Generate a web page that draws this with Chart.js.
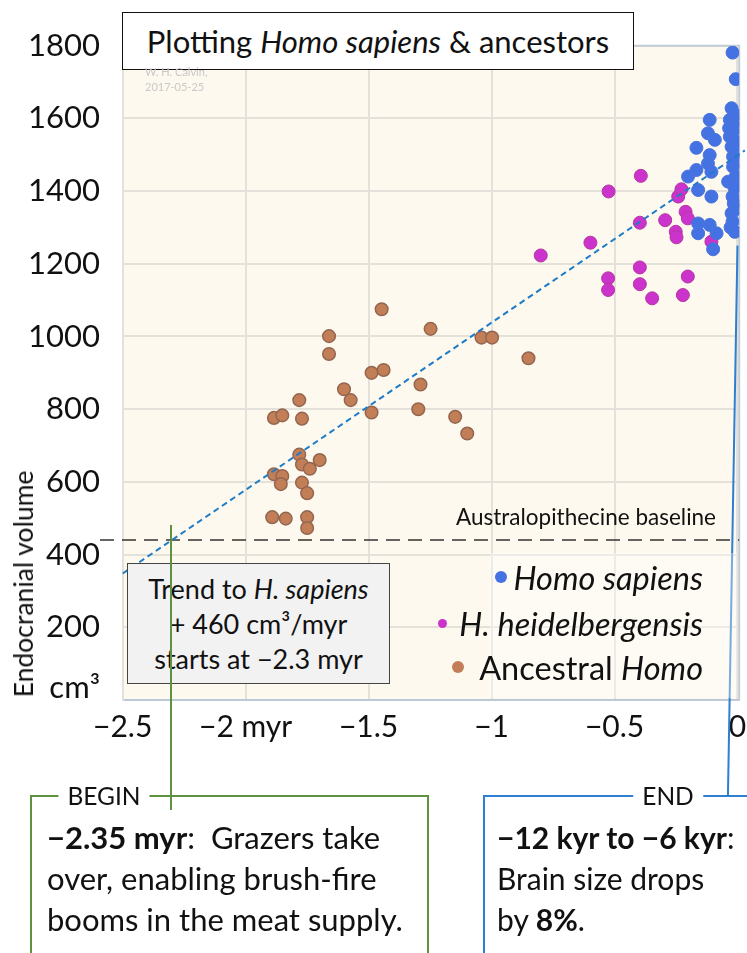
<!DOCTYPE html>
<html><head><meta charset="utf-8">
<script src="https://cdn.jsdelivr.net/npm/chart.js@4/dist/chart.umd.min.js"></script>
<style>
body{margin:0;background:#fff;font-family:Lato,"Open Sans",sans-serif;color:#111;}
#wrap{position:relative;width:747px;height:953px;overflow:hidden;}
canvas{position:absolute;left:0;top:0;}
.abs{position:absolute;}
#title{left:122px;top:12px;width:512px;height:58px;border:1.5px solid #111;background:#fff;font-size:31px;line-height:56px;text-align:center;box-sizing:border-box;}
#wm{left:145px;top:64px;font-size:11px;line-height:15px;color:#c9c9c9;}
#ylab{left:23px;top:584px;transform:translate(-50%,-50%) rotate(-90deg);font-size:26.5px;white-space:nowrap;}
#base{right:31px;top:503px;font-size:22.5px;white-space:nowrap;}
#trend{left:127px;top:563px;width:263px;height:121px;box-sizing:border-box;border:1.5px solid #444;background:#f2f2f2;font-size:27px;line-height:35px;text-align:center;padding-top:7px;}
#legbg{left:490px;top:553px;width:247px;height:145px;background:rgba(255,255,255,0.35);}
.leg{right:44px;font-size:32.5px;white-space:nowrap;display:flex;align-items:center;height:40px;}
.dot{display:inline-block;border-radius:50%;}
.box{box-sizing:border-box;background:#fff;}
#begin{left:30px;top:795px;width:399px;height:200px;border:2px solid #5e9140;}
#end{left:483px;top:795px;width:300px;height:200px;border:2px solid #2e7fcf;}
.tag{background:#fff;font-size:24.5px;padding:0 9px;line-height:26px;}
.btxt{font-size:31px;line-height:41px;white-space:nowrap;}
</style></head><body>
<div id="wrap">
<canvas id="c" width="747" height="953"></canvas>
<div id="legbg" class="abs"></div>
<div id="title" class="abs">Plotting <i>Homo sapiens</i> &amp; ancestors</div>
<div id="wm" class="abs">W. H. Calvin,<br>2017-05-25</div>
<div id="ylab" class="abs">Endocranial volume</div>
<div id="base" class="abs">Australopithecine baseline</div>
<div id="trend" class="abs">Trend to <i>H. sapiens</i><br>+ 460 cm³/myr<br>starts at −2.3 myr</div>
<div class="abs leg" style="top:557px;"><span class="dot" style="width:12px;height:12px;background:#4572e3;margin-right:6px;"></span><i>Homo sapiens</i></div>
<div class="abs leg" style="top:603px;"><span class="dot" style="width:9px;height:9px;background:#cc33cc;margin-right:12px;"></span><i>H. heidelbergensis</i></div>
<div class="abs leg" style="top:647px;"><span class="dot" style="width:12px;height:12px;background:#c27e57;margin-right:15px;"></span>Ancestral&nbsp;<i>Homo</i></div>
<div id="begin" class="abs box"></div>
<div id="end" class="abs box"></div>
<div class="abs tag" style="left:104px;top:796px;transform:translate(-50%,-50%);">BEGIN</div>
<div class="abs tag" style="left:668px;top:796px;transform:translate(-50%,-50%);">END</div>
<div class="abs btxt" style="left:47px;top:817px;"><b>−2.35 myr</b>:&nbsp; Grazers take<br>over, enabling brush-fire<br>booms in the meat supply.</div>
<div class="abs btxt" style="left:497px;top:817px;font-size:30px;"><b>−12 kyr to −6 kyr</b>:<br>Brain size drops<br>by <b>8%</b>.</div>
<div id="gline" class="abs" style="width:2px;background:#5e9140;"></div>
</div>
<script>
// ---- data ----
const xTickValues = [-2.5, -2, -1.5, -1, -0.5, 0];
const xTickLabels = ['−2.5', '−2 myr', '−1.5', '−1', '−0.5', '0'];
const yTickValues = [0, 200, 400, 600, 800, 1000, 1200, 1400, 1600, 1800];
const yTickLabels = ['cm³', '200', '400', '600', '800', '1000', '1200', '1400', '1600', '1800'];

const ancestralX = [-1.447,-1.661,-1.661,-1.488,-1.439,-1.600,-1.573,-1.782,-1.885,-1.851,-1.771,-1.488,-1.782,-1.771,-1.739,-1.699,-1.885,-1.851,-1.857,-1.771,-1.750,-1.892,-1.837,-1.750,-1.750,-1.248,-1.041,-0.998,-0.850,-1.289,-1.298,-1.148,-1.099];
const ancestralY = [1075,1001,952,900,908,855,825,825,776,783,774,791,675,648,636,660,621,616,594,598,569,503,499,503,473,1021,997,997,940,868,800,779,733];

const heidelX = [-0.393,-0.524,-0.800,-0.598,-0.397,-0.294,-0.241,-0.228,-0.211,-0.202,-0.251,-0.248,-0.397,-0.526,-0.526,-0.397,-0.347,-0.202,-0.222,-0.106];
const heidelY = [1442,1399,1223,1258,1313,1320,1385,1405,1343,1325,1288,1273,1190,1160,1128,1144,1105,1165,1114,1261];

const sapiensX = [-0.020,-0.007,-0.024,-0.031,-0.004,-0.034,-0.007,-0.031,-0.024,-0.018,-0.018,-0.007,-0.038,-0.020,-0.015,-0.024,-0.020,-0.011,-0.113,-0.120,-0.092,-0.167,-0.113,-0.120,-0.106,-0.167,-0.201,-0.160,-0.106,-0.160,-0.160,-0.113,-0.085,-0.099,-0.010,-0.012,-0.005,-0.010,-0.012,-0.008,-0.028];
const sapiensY = [1781,1708,1628,1596,1596,1573,1573,1550,1522,1495,1467,1440,1426,1385,1366,1339,1316,1288,1596,1559,1541,1519,1499,1476,1453,1458,1440,1403,1385,1311,1284,1307,1284,1240,1610,1540,1510,1480,1410,1350,1300];

const trendX = [-2.5, 0.03];
const trendY = [348, 1512];
const baselineValue = 440;
const beginMyr = -2.3;

// ---- chart ----
const pts = (xs, ys) => xs.map((x, i) => ({x, y: ys[i]}));
const decor = {
  id: 'decor',
  beforeDraw(chart) {
    const {ctx, chartArea: a} = chart;
    ctx.save();
    ctx.fillStyle = '#fdf9ee';
    ctx.fillRect(a.left, a.top, a.right - a.left, a.bottom - a.top);
    ctx.restore();
  },
  beforeDatasetsDraw(chart) {
    const {ctx, chartArea: a, scales} = chart;
    ctx.save();
    ctx.strokeStyle = '#c3cdd8';
    ctx.lineWidth = 2;
    ctx.beginPath();
    ctx.moveTo(a.left, a.top); ctx.lineTo(a.right, a.top); ctx.lineTo(a.right, a.bottom);
    ctx.stroke();
    const yb = scales.y.getPixelForValue(baselineValue);
    ctx.strokeStyle = '#333';
    ctx.lineWidth = 1.5;
    ctx.setLineDash([14, 8]);
    ctx.beginPath();
    ctx.moveTo(100, yb); ctx.lineTo(a.right, yb);
    ctx.stroke();
    ctx.restore();
  },
  afterDraw(chart) {
    const {ctx, scales} = chart;
    ctx.save();
    ctx.strokeStyle = '#2e7fcf';
    ctx.lineWidth = 2;
    ctx.beginPath();
    ctx.moveTo(727, 850);
    ctx.lineTo(scales.x.getPixelForValue(0), scales.y.getPixelForValue(1250));
    ctx.stroke();
    ctx.restore();
    const g = document.getElementById('gline');
    const gx = scales.x.getPixelForValue(beginMyr);
    g.style.left = (gx - 2) + 'px';
    g.style.top = '525px';
    g.style.height = '285px';
  }
};

new Chart(document.getElementById('c'), {
  data: {
    datasets: [
      {type: 'line', data: pts(trendX, trendY), borderColor: '#1e7cc8', borderWidth: 2, borderDash: [6, 4], pointRadius: 0, order: 0, clip: false},
      {type: 'scatter', data: pts(sapiensX, sapiensY), backgroundColor: '#4572e3', borderColor: '#4a74dd', borderWidth: 1, pointRadius: 6.5, order: 1},
      {type: 'scatter', data: pts(heidelX, heidelY), backgroundColor: '#cc33cc', borderColor: '#b4389e', borderWidth: 1, pointRadius: 6.5, order: 2},
      {type: 'scatter', data: pts(ancestralX, ancestralY), backgroundColor: '#c27e57', borderColor: '#946650', borderWidth: 1.5, pointRadius: 6.3, order: 3}
    ]
  },
  options: {
    responsive: false,
    animation: false,
    events: [],
    layout: {padding: {left: 0, top: 45.7, right: 7.7, bottom: 0}},
    plugins: {legend: {display: false}, tooltip: {enabled: false}},
    scales: {
      x: {
        type: 'linear', min: -2.5, max: 0.007,
        afterBuildTicks: s => { s.ticks = xTickValues.map(v => ({value: v})); },
        afterFit: s => { s.height = 253; s.paddingLeft = 0; s.paddingRight = 0; },
        ticks: {callback: (v, i) => xTickLabels[i], font: {family: 'Lato', size: 30}, color: '#111', padding: 9, maxRotation: 0, autoSkip: false},
        grid: {color: '#e3e1da', lineWidth: 2, drawTicks: false},
        border: {color: '#bccad8', width: 2}
      },
      y: {
        type: 'linear', min: 0, max: 1800,
        afterBuildTicks: s => { s.ticks = yTickValues.map(v => ({value: v})); },
        afterFit: s => { s.width = 122.7; s.paddingTop = 0; s.paddingBottom = 0; },
        ticks: {callback: (v, i) => (i === 0 ? [yTickLabels[i], ''] : yTickLabels[i]), font: {family: 'Lato', size: 31, lineHeight: 0.8}, color: '#111', padding: 22.7, autoSkip: false},
        grid: {color: '#e3e1da', lineWidth: 2, drawTicks: false},
        border: {color: '#e3e1da', width: 2}
      }
    }
  },
  plugins: [decor]
});
</script>
</body></html>
